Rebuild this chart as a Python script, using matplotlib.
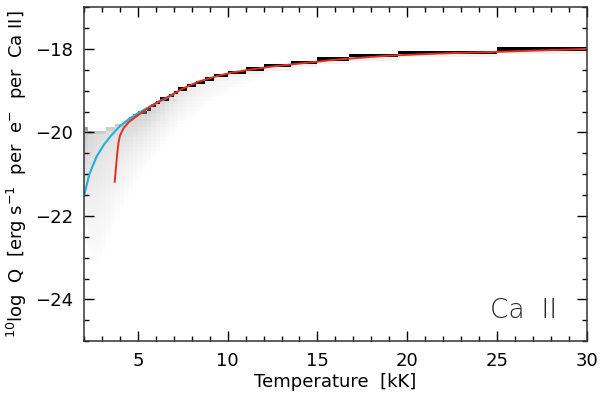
import matplotlib
matplotlib.use("Agg")
import matplotlib.pyplot as plt
import numpy as np
from matplotlib.ticker import MultipleLocator

plt.rcParams.update(
    {
        "font.family": "DejaVu Sans",
        "font.size": 13,
        "axes.linewidth": 1.1,
        "xtick.direction": "in",
        "ytick.direction": "in",
        "xtick.top": True,
        "ytick.right": True,
    }
)

# Red curve (fit)
RED_T = [3.71, 3.78, 3.85, 3.92, 4.0, 4.2, 4.5, 4.9, 5.3, 5.7, 6.2, 6.8, 7.5,
         8.4, 9.4, 10.3, 11.2, 12.5, 14.0, 16.2, 19.0, 21.8, 25.7, 30.0]
RED_Q = [-21.18, -20.85, -20.5, -20.25, -20.08, -19.9, -19.75, -19.62, -19.5,
         -19.38, -19.25, -19.12, -18.95, -18.78, -18.65, -18.56, -18.5, -18.42,
         -18.35, -18.25, -18.16, -18.11, -18.06, -18.0]

# Blue curve
BLUE_T = [2.0, 2.3, 2.7, 3.1, 3.5, 4.0, 4.5, 5.0, 5.5, 6.0, 6.5, 7.0]
BLUE_Q = [-21.52, -21.0, -20.58, -20.3, -20.08, -19.85, -19.68, -19.54,
          -19.42, -19.3, -19.2, -19.08]

# Gray density cloud (2D histogram), column outline
CLOUD_T = [2.0, 2.5, 3.0, 3.5, 4.0, 4.5, 5.0, 5.5, 6.0, 7.0, 8.0, 9.0, 10.0,
           12.0, 14.0, 16.2, 19.0, 21.8, 25.7, 30.0]
CLOUD_TOP = [-19.95, -19.97, -19.97, -19.95, -19.85, -19.72, -19.58, -19.45,
             -19.33, -19.06, -18.86, -18.71, -18.6, -18.44, -18.33, -18.22,
             -18.13, -18.08, -18.03, -17.98]
CLOUD_MID = [-21.0, -21.3, -21.4, -21.1, -20.7, -20.4, -20.1, -19.9, -19.75,
             -19.45, -19.2, -19.0, -18.85, -18.6, -18.45, -18.3, -18.2, -18.14,
             -18.08, -18.03]
CLOUD_LOW = [-22.7, -23.4, -23.2, -22.6, -22.1, -21.6, -21.2, -20.9, -20.6,
             -20.1, -19.7, -19.35, -19.1, -18.75, -18.55, -18.4, -18.28, -18.2,
             -18.14, -18.08]
CLOUD_SHADE = [0.32, 0.25, 0.22, 0.22, 0.24, 0.26, 0.28, 0.30, 0.28, 0.22,
               0.16, 0.12, 0.10, 0.06, 0.04, 0.03, 0.03, 0.02, 0.02, 0.02]
RIDGE_SHADE = [0.50, 0.35, 0.30, 0.30, 0.30, 0.40, 0.60, 0.80, 0.90, 1.0,
               1.0, 1.0, 1.0, 1.0, 1.0, 1.0, 1.0, 1.0, 1.0, 1.0]

T_BIN = 0.25
Q_BIN = 0.08

fig = plt.figure(figsize=(6.0, 3.99), dpi=100)
ax = fig.add_axes([0.14, 0.145, 0.838, 0.837])

# build histogram image from the column outline
t_edges = np.arange(2.0, 30.0 + 1e-9, T_BIN)
q_edges = np.arange(-25.0, -17.0 + 1e-9, Q_BIN)
t_c = 0.5 * (t_edges[:-1] + t_edges[1:])
q_c = 0.5 * (q_edges[:-1] + q_edges[1:])
img = np.zeros((len(q_c), len(t_c)))
for j, t in enumerate(t_c):
    top = np.interp(t, CLOUD_T, CLOUD_TOP)
    mid = np.interp(t, CLOUD_T, CLOUD_MID)
    low = np.interp(t, CLOUD_T, CLOUD_LOW)
    s = np.interp(t, CLOUD_T, CLOUD_SHADE)
    r = np.interp(t, CLOUD_T, RIDGE_SHADE)
    col = np.interp(q_c, [low, mid, top], [0.0, 0.6 * s, s], left=0.0, right=0.0)
    col[q_c > top] = 0.0
    k = np.searchsorted(q_edges, top) - 1
    if 0 <= k < len(q_c):
        col[k] = r
        if k - 1 >= 0:
            col[k - 1] = max(col[k - 1], 0.12 * r)
    img[:, j] = col

ax.pcolormesh(t_edges, q_edges, img, cmap="Greys", vmin=0, vmax=1,
              shading="flat", rasterized=True)

ax.plot(BLUE_T, BLUE_Q, color="#25AEE0", lw=1.5)
ax.plot(RED_T, RED_Q, color="#E0301E", lw=1.4)

ax.set_xlim(2, 30)
ax.set_ylim(-25, -17)
ax.xaxis.set_major_locator(MultipleLocator(5))
ax.xaxis.set_minor_locator(MultipleLocator(1))
ax.yaxis.set_major_locator(MultipleLocator(2))
ax.yaxis.set_minor_locator(MultipleLocator(0.5))
ax.tick_params(which="major", length=7, width=1.0, pad=8)
ax.tick_params(which="minor", length=3.5, width=1.0)
for sp in ax.spines.values():
    sp.set_color("#333333")

ax.set_xlabel("Temperature  [kK]", labelpad=2)
ax.set_ylabel(r"$^{10}$log  Q  [erg s$^{-1}$  per  e$^{-}$  per  Ca II]",
              labelpad=4)
ax.text(0.94, 0.07, "Ca  II", transform=ax.transAxes, ha="right", va="baseline",
        fontsize=19, fontweight="light", color="#222222")

fig.savefig("out.png", dpi=100)
